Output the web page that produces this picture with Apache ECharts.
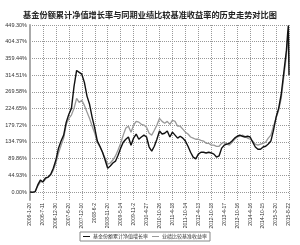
<!DOCTYPE html>
<html><head><meta charset="utf-8">
<script src="https://cdn.jsdelivr.net/npm/echarts@6/dist/echarts.min.js"></script>
<style>html,body{margin:0;padding:0;background:#fff}#c{width:300px;height:245px}</style>
</head><body><div id="c"></div>
<script>
const titleText = '基金份额累计净值增长率与同期业绩比较基准收益率的历史走势对比图';
const seriesNames = ['基金份额累计净值增长率', '业绩比较基准收益率'];
const tickLabels = ['2006-1-20','2006-7-11','2006-12-30','2007-6-20','2007-12-10','2008-6-2','2008-11-20','2009-5-14','2009-11-2','2010-4-27','2010-10-26','2011-4-18','2011-10-14','2012-4-13','2012-10-18','2013-4-17','2013-10-16','2014-4-16','2014-10-15','2015-3-20','2015-8-22'];
const yTicks = [0, 44.93, 89.86, 134.79, 179.72, 224.65, 269.58, 314.51, 359.44, 404.37, 449.30];
// sample positions in tick-label units (0 = first label, 20 = last label)
const sampleT = [0,0.2,0.4,0.6,0.8,1,1.2,1.4,1.6,1.8,2,2.2,2.4,2.6,2.8,3,3.2,3.4,3.6,3.8,4,4.2,4.4,4.6,4.8,5,5.2,5.4,5.6,5.8,6,6.2,6.4,6.6,6.8,7,7.2,7.4,7.6,7.8,8,8.2,8.4,8.6,8.8,9,9.2,9.4,9.6,9.8,10,10.2,10.4,10.6,10.8,11,11.2,11.4,11.6,11.8,12,12.2,12.4,12.6,12.8,13,13.2,13.4,13.6,13.8,14,14.2,14.4,14.6,14.8,15,15.2,15.4,15.6,15.8,16,16.2,16.4,16.6,16.8,17,17.2,17.4,17.6,17.8,18,18.2,18.4,18.6,18.8,19,19.2,19.4,19.6,19.8,19.9,19.95,20];
const fundValues = [0,-1,1,19,32,27,38,40,48,64,86,118,137,153,188,209,225,284,327,322,317,295,258,236,201,172,137,123,107,86,64,70,78,83,99,118,134,142,148,126,145,156,142,148,153,148,121,110,123,142,164,156,158,164,148,161,153,145,150,145,137,123,107,94,89,102,107,107,105,107,105,102,94,97,118,126,129,131,137,145,150,153,150,148,150,148,134,121,115,115,121,123,129,137,166,201,225,263,322,381,429,448,315];
const benchValues = [0,0,2,16,27,27,35,40,46,59,78,105,126,145,182,198,207,225,252,241,247,233,215,198,177,158,134,121,107,91,75,78,86,97,113,131,153,172,177,161,180,190,188,182,180,174,158,153,166,180,198,190,185,190,182,193,190,177,177,169,161,156,148,145,142,142,139,137,131,131,126,126,123,123,131,134,129,126,134,142,148,150,153,150,145,142,137,129,126,129,131,134,145,153,177,198,220,252,311,367,413,426,349];

const pair = vals => sampleT.map((t, i) => [t, vals[i]]);
const chart = echarts.init(document.getElementById('c'), null, {renderer: 'canvas'});
const CJK = '"Noto Sans CJK SC", sans-serif';
chart.setOption({
  animation: false,
  backgroundColor: '#fff',
  title: {
    text: titleText, left: 'center', top: 6,
    textStyle: {fontFamily: CJK, fontSize: 8.2, fontWeight: 'bold', color: '#222'}
  },
  legend: {
    left: 80, top: 232, width: 132, itemWidth: 7, itemHeight: 1, itemGap: 4,
    padding: [2, 3], borderColor: '#888', borderWidth: 1, borderRadius: 0,
    icon: 'rect',
    textStyle: {fontFamily: CJK, fontSize: 5, color: '#333', padding: [0, 0, 0, -2]},
    data: seriesNames
  },
  grid: {left: 30, right: 11, top: 25, bottom: 45},
  xAxis: {
    type: 'value', min: 0, max: 20, interval: 1,
    axisLine: {show: false}, axisTick: {show: false},
    splitLine: {show: true, lineStyle: {type: 'dotted', color: '#999', width: 1}},
    axisLabel: {
      rotate: 90, fontSize: 5, color: '#333', margin: 3, fontFamily: 'Liberation Sans',
      formatter: v => tickLabels[Math.round(v)] || ''
    }
  },
  yAxis: {
    type: 'value', min: -21.5, max: 449.3,
    axisLine: {show: true, lineStyle: {color: '#aaa', width: 2}},
    axisTick: {show: false, customValues: yTicks},
    splitLine: {show: true, lineStyle: {type: 'dotted', color: '#999', width: 1}},
    axisLabel: {
      customValues: yTicks, fontSize: 5.5, color: '#333', margin: 3, fontFamily: 'Liberation Sans',
      formatter: v => v.toFixed(2) + '%'
    }
  },
  series: [
    {name: seriesNames[0], type: 'line', data: pair(fundValues), symbol: 'none',
     lineStyle: {color: '#111', width: 1.4}, itemStyle: {color: '#111'}, z: 3},
    {name: seriesNames[1], type: 'line', data: pair(benchValues), symbol: 'none',
     lineStyle: {color: '#999', width: 1.3}, itemStyle: {color: '#999'}, z: 2}
  ]
});
</script></body></html>
